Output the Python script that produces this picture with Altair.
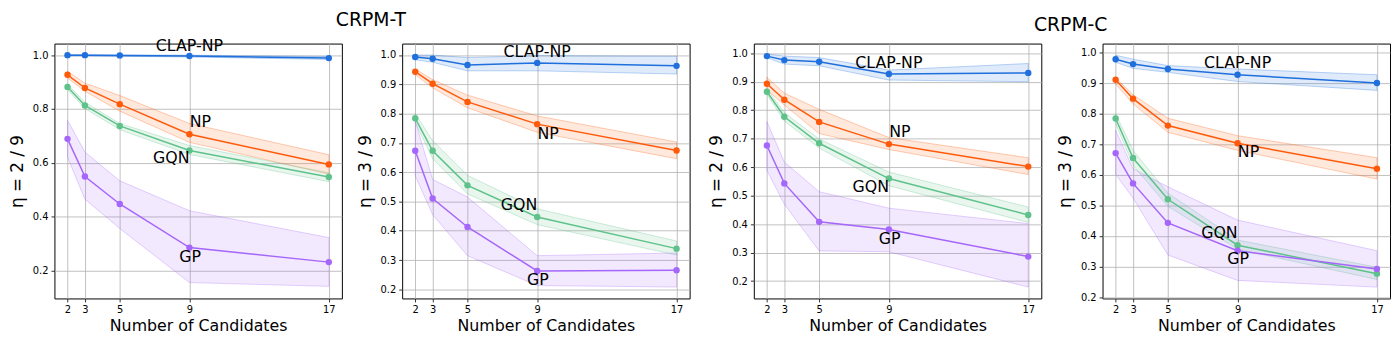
import altair as alt
import pandas as pd

X = [2, 3, 5, 9, 17]
METHODS = ["CLAP-NP", "NP", "GQN", "GP"]
COLORS = ["#1f6fdc", "#ff5a0a", "#5ec28a", "#a566fa"]

# ---- CRPM-T, eta = 2/9 ----
T2_MEAN = {"CLAP-NP": [1.000, 1.000, 0.999, 0.997, 0.989],
           "NP":      [0.927, 0.878, 0.818, 0.706, 0.594],
           "GQN":     [0.882, 0.813, 0.737, 0.646, 0.547],
           "GP":      [0.689, 0.549, 0.447, 0.285, 0.231]}
T2_LO = {"CLAP-NP": [0.997, 0.997, 0.996, 0.993, 0.984],
         "NP":      [0.915, 0.866, 0.792, 0.676, 0.558],
         "GQN":     [0.872, 0.802, 0.723, 0.631, 0.530],
         "GP":      [0.621, 0.465, 0.356, 0.155, 0.141]}
T2_HI = {"CLAP-NP": [1.002, 1.002, 1.001, 1.000, 0.995],
         "NP":      [0.940, 0.896, 0.850, 0.746, 0.630],
         "GQN":     [0.892, 0.825, 0.746, 0.664, 0.563],
         "GP":      [0.758, 0.640, 0.533, 0.422, 0.322]}
T2_LABELS = {"CLAP-NP": [9.0, 1.034], "NP": [9.63, 0.752], "GQN": [7.96, 0.618], "GP": [9.04, 0.251]}

# ---- CRPM-T, eta = 3/9 ----
T3_MEAN = {"CLAP-NP": [0.993, 0.987, 0.966, 0.973, 0.963],
           "NP":      [0.943, 0.902, 0.840, 0.764, 0.674],
           "GQN":     [0.784, 0.673, 0.555, 0.447, 0.339],
           "GP":      [0.673, 0.510, 0.413, 0.263, 0.265]}
T3_LO = {"CLAP-NP": [0.984, 0.975, 0.946, 0.946, 0.935],
         "NP":      [0.933, 0.888, 0.820, 0.736, 0.646],
         "GQN":     [0.770, 0.646, 0.526, 0.421, 0.317],
         "GP":      [0.588, 0.455, 0.315, 0.213, 0.208]}
T3_HI = {"CLAP-NP": [1.000, 1.000, 0.991, 0.998, 0.996],
         "NP":      [0.952, 0.916, 0.863, 0.792, 0.703],
         "GQN":     [0.800, 0.708, 0.589, 0.475, 0.365],
         "GP":      [0.775, 0.575, 0.515, 0.315, 0.324]}
T3_LABELS = {"CLAP-NP": [9.0, 1.011], "NP": [9.63, 0.730], "GQN": [7.96, 0.487], "GP": [9.04, 0.233]}

# ---- CRPM-C, eta = 2/9 ----
C2_MEAN = {"CLAP-NP": [0.990, 0.976, 0.970, 0.927, 0.931],
           "NP":      [0.893, 0.837, 0.759, 0.681, 0.602],
           "GQN":     [0.865, 0.777, 0.684, 0.560, 0.432],
           "GP":      [0.676, 0.543, 0.408, 0.381, 0.286]}
C2_LO = {"CLAP-NP": [0.984, 0.962, 0.956, 0.906, 0.900],
         "NP":      [0.872, 0.818, 0.718, 0.662, 0.574],
         "GQN":     [0.855, 0.762, 0.667, 0.535, 0.406],
         "GP":      [0.589, 0.470, 0.306, 0.303, 0.179]}
C2_HI = {"CLAP-NP": [0.997, 0.990, 0.985, 0.941, 0.964],
         "NP":      [0.916, 0.860, 0.803, 0.704, 0.633],
         "GQN":     [0.875, 0.791, 0.699, 0.583, 0.460],
         "GP":      [0.760, 0.618, 0.514, 0.456, 0.402]}
C2_LABELS = {"CLAP-NP": [9.0, 0.964], "NP": [9.63, 0.724], "GQN": [7.96, 0.529], "GP": [9.04, 0.349]}

# ---- CRPM-C, eta = 3/9 ----
C3_MEAN = {"CLAP-NP": [0.978, 0.962, 0.946, 0.927, 0.900],
           "NP":      [0.911, 0.849, 0.761, 0.703, 0.620],
           "GQN":     [0.784, 0.655, 0.520, 0.370, 0.277],
           "GP":      [0.671, 0.572, 0.443, 0.352, 0.292]}
C3_LO = {"CLAP-NP": [0.968, 0.948, 0.935, 0.905, 0.876],
         "NP":      [0.897, 0.832, 0.739, 0.680, 0.586],
         "GQN":     [0.768, 0.631, 0.497, 0.357, 0.258],
         "GP":      [0.602, 0.524, 0.338, 0.255, 0.233]}
C3_HI = {"CLAP-NP": [0.991, 0.978, 0.957, 0.946, 0.927],
         "NP":      [0.918, 0.862, 0.785, 0.728, 0.656],
         "GQN":     [0.800, 0.680, 0.540, 0.387, 0.298],
         "GP":      [0.746, 0.620, 0.561, 0.452, 0.352]}
C3_LABELS = {"CLAP-NP": [9.0, 0.965], "NP": [9.63, 0.674], "GQN": [7.96, 0.409], "GP": [9.04, 0.325]}

TICKS_02 = [0.2, 0.4, 0.6, 0.8, 1.0]
TICKS_01 = [0.2, 0.3, 0.4, 0.5, 0.6, 0.7, 0.8, 0.9, 1.0]

PLOT_W, PLOT_H = 291, 258
FONT = "DejaVu Sans"


def panel(mean, lo, hi, labels, ydom, yticks, ytitle):
    rows = []
    for m in METHODS:
        for i, xv in enumerate(X):
            rows.append(dict(method=m, x=xv, y=mean[m][i], lo=lo[m][i], hi=hi[m][i]))
    df = pd.DataFrame(rows)
    lab = pd.DataFrame([dict(method=m, x=labels[m][0], y=labels[m][1]) for m in METHODS])

    xscale = alt.Scale(domain=[1.25, 17.75], nice=False, zero=False)
    yscale = alt.Scale(domain=ydom, nice=False, zero=False)
    xaxis = alt.Axis(values=X, format="d", title="Number of Candidates")
    yaxis = alt.Axis(values=yticks, format=".1f", title=ytitle)
    cscale = alt.Scale(domain=METHODS, range=COLORS)

    base = alt.Chart(df)
    band = base.mark_area(fillOpacity=0.14, strokeOpacity=0.3, strokeWidth=1).encode(
        x=alt.X("x:Q", scale=xscale, axis=xaxis),
        y=alt.Y("lo:Q", scale=yscale, axis=yaxis),
        y2="hi:Q",
        color=alt.Color("method:N", scale=cscale, legend=None),
        stroke=alt.Stroke("method:N", scale=cscale, legend=None),
        detail="method:N",
    )
    line = base.mark_line(strokeWidth=1.5).encode(
        x=alt.X("x:Q", scale=xscale, axis=xaxis),
        y=alt.Y("y:Q", scale=yscale, axis=yaxis),
        color=alt.Color("method:N", scale=cscale, legend=None),
        detail="method:N",
    )
    pts = base.mark_circle(size=42, opacity=1).encode(
        x=alt.X("x:Q", scale=xscale, axis=xaxis),
        y=alt.Y("y:Q", scale=yscale, axis=yaxis),
        color=alt.Color("method:N", scale=cscale, legend=None),
    )
    txt = alt.Chart(lab).mark_text(fontSize=16, font=FONT, color="black", align="center", baseline="middle").encode(
        x=alt.X("x:Q", scale=xscale, axis=xaxis),
        y=alt.Y("y:Q", scale=yscale, axis=yaxis),
        text="method:N",
    )
    return alt.layer(band, line, pts, txt).properties(width=PLOT_W, height=PLOT_H)


p1 = panel(T2_MEAN, T2_LO, T2_HI, T2_LABELS, [0.096, 1.043], TICKS_02, "η = 2 / 9")
p2 = panel(T3_MEAN, T3_LO, T3_HI, T3_LABELS, [0.169, 1.039], TICKS_01, "η = 3 / 9")
p3 = panel(C2_MEAN, C2_LO, C2_HI, C2_LABELS, [0.139, 1.034], TICKS_01, "η = 2 / 9")
p4 = panel(C3_MEAN, C3_LO, C3_HI, C3_LABELS, [0.196, 1.029], TICKS_01, "η = 3 / 9")

gT = alt.hconcat(p1, p2, spacing=13).properties(
    title=alt.TitleParams("CRPM-T", anchor="middle", dx=22, offset=8))
gC = alt.hconcat(p3, p4, spacing=14).properties(
    title=alt.TitleParams("CRPM-C", anchor="middle", dx=22, offset=8))

chart = alt.hconcat(gT, gC, spacing=17).properties(
    padding={"left": 0, "top": 0, "right": 0, "bottom": 0}
).configure_view(
    stroke="black", strokeWidth=1
).configure_axis(
    domain=False, grid=True, gridColor="#b0b0b0", gridWidth=0.8,
    tickColor="black", tickSize=3.5, tickWidth=0.8,
    labelFont=FONT, labelFontSize=10, labelColor="black", labelPadding=3,
    titleFont=FONT, titleFontSize=16, titleFontWeight="normal", titleColor="black",
).configure_axisY(
    titlePadding=6, titleFontSize=17
).configure_axisX(
    titlePadding=3
).configure_title(
    font=FONT, fontSize=19, fontWeight="normal", color="black"
)

chart.save("out.html", embed_options={"renderer": "svg", "actions": False})
